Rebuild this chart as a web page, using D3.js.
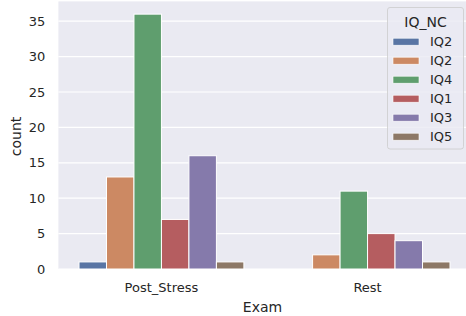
<!DOCTYPE html>
<html>
<head>
<meta charset="utf-8">
<script src="https://cdn.jsdelivr.net/npm/d3@7"></script>
<style>
  body { margin: 0; background: #fff; }
  svg { display: block; font-family: "DejaVu Sans", sans-serif; }
</style>
</head>
<body>
<svg class="chart" width="466" height="316"></svg>
<script>
// data
const exams = ["Post_Stress", "Rest"]
const hueLabels = ["IQ2", "IQ2", "IQ4", "IQ1", "IQ3", "IQ5"]
const postStressCounts = [1, 13, 36, 7, 16, 1]
const restCounts = [0, 2, 11, 5, 4, 1]
const yTicks = [0, 5, 10, 15, 20, 25, 30, 35]
const colors = ["#5975a4", "#cc8963", "#5f9e6e", "#b55d60", "#857aab", "#8d7866"]

const counts = [postStressCounts, restCounts]

var svg = d3.select(".chart")
var plotLeft = 58.4, plotRight = 470.6, plotTop = 1.4, plotBottom = 269

// categorical axis like matplotlib: -0.5 .. 1.5
var x = d3.scaleLinear().domain([-0.5, exams.length - 0.5]).range([plotLeft, plotRight])
var y = d3.scaleLinear().domain([0, 37.8]).range([plotBottom, plotTop])

svg.append("rect")
  .attr("x", plotLeft).attr("y", plotTop)
  .attr("width", plotRight - plotLeft).attr("height", plotBottom - plotTop)
  .attr("fill", "#eaeaf2")

// horizontal grid
svg.selectAll("line.grid")
  .data(yTicks)
  .enter()
  .append("line")
    .attr("x1", plotLeft).attr("x2", plotRight)
    .attr("y1", d => y(d)).attr("y2", d => y(d))
    .attr("stroke", "#fff")
    .attr("stroke-width", 1.2)

// bars
var nHue = hueLabels.length
var barW = 0.8 / nHue
var bars = []
exams.forEach((ex, i) => {
  counts[i].forEach((v, j) => {
    bars.push({ cat: i, hue: j, value: v })
  })
})

svg.selectAll("rect.bar")
  .data(bars)
  .enter()
  .append("rect")
    .attr("class", "bar")
    .attr("x", d => x(d.cat - 0.4 + d.hue * barW))
    .attr("width", d => x(barW) - x(0))
    .attr("y", d => y(d.value))
    .attr("height", d => y(0) - y(d.value))
    .attr("fill", d => colors[d.hue])
    .attr("stroke", "#fff")
    .attr("stroke-width", d => d.value > 0 ? 1 : 0)

// y tick labels
svg.selectAll("text.ytick")
  .data(yTicks)
  .enter()
  .append("text")
    .attr("x", plotLeft - 13)
    .attr("y", d => y(d))
    .attr("dy", "0.36em")
    .attr("text-anchor", "end")
    .attr("font-size", "13px")
    .attr("fill", "#262626")
    .text(d => d)

// x tick labels
svg.selectAll("text.xtick")
  .data(exams)
  .enter()
  .append("text")
    .attr("x", (d, i) => x(i))
    .attr("y", 292)
    .attr("text-anchor", "middle")
    .attr("font-size", "13px")
    .attr("fill", "#262626")
    .text(d => d)

// axis labels
svg.append("text")
  .attr("x", (plotLeft + plotRight) / 2 - 2)
  .attr("y", 311.5)
  .attr("text-anchor", "middle")
  .attr("font-size", "14px")
  .attr("fill", "#262626")
  .text("Exam")

svg.append("text")
  .attr("transform", "translate(20.5,136.5) rotate(-90)")
  .attr("text-anchor", "middle")
  .attr("font-size", "14px")
  .attr("fill", "#262626")
  .text("count")

// legend
var lg = svg.append("g").attr("transform", "translate(387.5,7.5)")
lg.append("rect")
  .attr("width", 76).attr("height", 141.5)
  .attr("rx", 2.5)
  .attr("fill", "#eaeaf2").attr("fill-opacity", 0.8)
  .attr("stroke", "#cccccc").attr("stroke-width", 0.8)
lg.append("text")
  .attr("x", 38).attr("y", 19.5)
  .attr("text-anchor", "middle")
  .attr("font-size", "14px")
  .attr("fill", "#262626")
  .text("IQ_NC")

var items = lg.selectAll("g.item")
  .data(hueLabels)
  .enter()
  .append("g")
    .attr("transform", (d, i) => `translate(0,${34.2 + i * 19})`)
items.append("rect")
  .attr("x", 5.5).attr("y", -3.5)
  .attr("width", 26).attr("height", 7)
  .attr("fill", (d, i) => colors[i])
  .attr("stroke", "#fff").attr("stroke-width", 0.6)
items.append("text")
  .attr("x", 42.5)
  .attr("dy", "0.36em")
  .attr("font-size", "13px")
  .attr("fill", "#262626")
  .text(d => d)
</script>
</body>
</html>
